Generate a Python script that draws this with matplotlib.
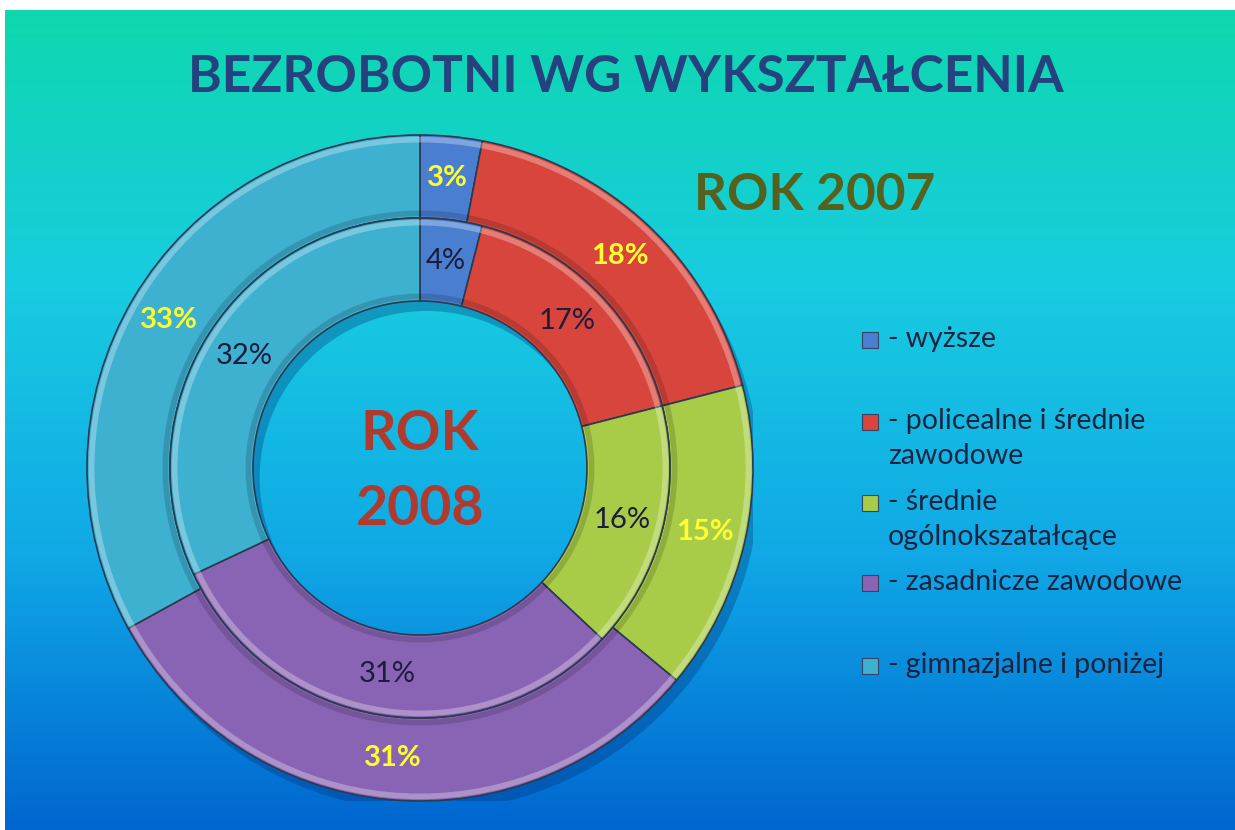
import numpy as np
import matplotlib
matplotlib.use("Agg")
from matplotlib import pyplot as plt
from matplotlib.colors import LinearSegmentedColormap
from matplotlib.patches import Rectangle, Circle, Wedge

# data
categories = ['- wyższe', '- policealne i średnie\nzawodowe', '- średnie\nogólnokszatałcące',
              '- zasadnicze zawodowe', '- gimnazjalne i poniżej']
share_2007 = [3, 18, 15, 31, 33]   # outer ring
share_2008 = [4, 17, 16, 31, 32]   # inner ring
colors = ['#4a7ed0', '#d8453c', '#a8cc48', '#8a64b4', '#3eb0d0']

W, H = 1235, 830
fig = plt.figure(figsize=(W / 100, H / 100), dpi=100)
fig.patch.set_facecolor('white')

# gradient background (teal at top, blue at bottom)
bg = fig.add_axes([5 / W, 0, (W - 5) / W, (H - 10) / H])
bg.set_axis_off()
grad = LinearSegmentedColormap.from_list('bg', ['#0ed8ae', '#18cce0', '#10a8e6', '#0066d0'])
bg.imshow(np.linspace(0, 1, 256).reshape(-1, 1), cmap=grad, aspect='auto',
          extent=[0, 1, 0, 1])

# pie axes: centre (420, 468) px, outer radius 333 px
cx, cy, R = 420, 468, 333
ax = fig.add_axes([(cx - R) / W, (H - cy - R) / H, 2 * R / W, 2 * R / H])
ax.set_axis_off()

w_out = 83 / R
w_in = 83 / R
r_in = 1 - w_out
r_hole = r_in - w_in

# drop shadow, ring shaped so the hole keeps the background
ax.add_patch(Wedge((0.02, -0.03), 1.0, 0, 360, width=1 - r_hole,
                   color='#002a70', alpha=0.3, lw=0, zorder=0))

def fmt(v):
    return lambda p: '%d%%' % round(p)

outer, _, outer_txt = ax.pie(share_2007, radius=1.0, colors=colors, startangle=90,
                             counterclock=False, labels=None,
                             wedgeprops=dict(width=w_out, edgecolor='#2a3a50', linewidth=1.2),
                             textprops=dict(color='#ffff30', fontsize=21, fontweight='bold',
                                            family=['Lato', 'DejaVu Sans']),
                             autopct=fmt(share_2007), pctdistance=1 - w_out / 2)
inner, _, inner_txt = ax.pie(share_2008, radius=r_in, colors=colors, startangle=90,
                             counterclock=False, labels=None,
                             wedgeprops=dict(width=w_in, edgecolor='#2a3a50', linewidth=1.2),
                             textprops=dict(color='#1c1c3c', fontsize=21,
                                            family=['Lato', 'DejaVu Sans']),
                             autopct=fmt(share_2008), pctdistance=(r_in - w_in / 2) / r_in)

# light bevel-ish highlight on the rings
for r0, w in [(1.0, w_out), (r_in, w_in)]:
    ax.add_patch(Circle((0, 0), r0 - 0.014, fill=False, ec='white', alpha=0.3, lw=4))
    ax.add_patch(Circle((0, 0), r0 - w + 0.014, fill=False, ec='black', alpha=0.15, lw=4))

ax.set_xlim(-1, 1)
ax.set_ylim(-1, 1)

# centre label
ax.text(0, -0.01, 'ROK\n2008', ha='center', va='center', fontsize=40, fontweight='bold',
        color='#b03a2e', family=['Lato', 'DejaVu Sans'], linespacing=1.6)

# titles
fig.text(626 / W, 1 - 78 / H, 'BEZROBOTNI WG WYKSZTAŁCENIA', ha='center', va='center',
         fontsize=37, fontweight='bold', color='#25417e', family=['Lato', 'DejaVu Sans'])
fig.text(815 / W, 1 - 195 / H, 'ROK 2007', ha='center', va='center',
         fontsize=37, fontweight='bold', color='#55621f', family=['Lato', 'DejaVu Sans'])

# legend drawn by hand
leg_y = [340, 422, 503, 583, 666]
for lab, c, y in zip(categories, colors, leg_y):
    fig.patches.append(Rectangle((862 / W, 1 - (y + 8) / H), 16 / W, 16 / H,
                                 transform=fig.transFigure, facecolor=c,
                                 edgecolor='#334466', linewidth=0.8))
    fig.text(888 / W, 1 - (y - 14) / H, lab, ha='left', va='top', fontsize=20.5,
             color='#1a2440', family=['Lato', 'DejaVu Sans'], linespacing=1.45)

fig.savefig('out.png', dpi=100)
